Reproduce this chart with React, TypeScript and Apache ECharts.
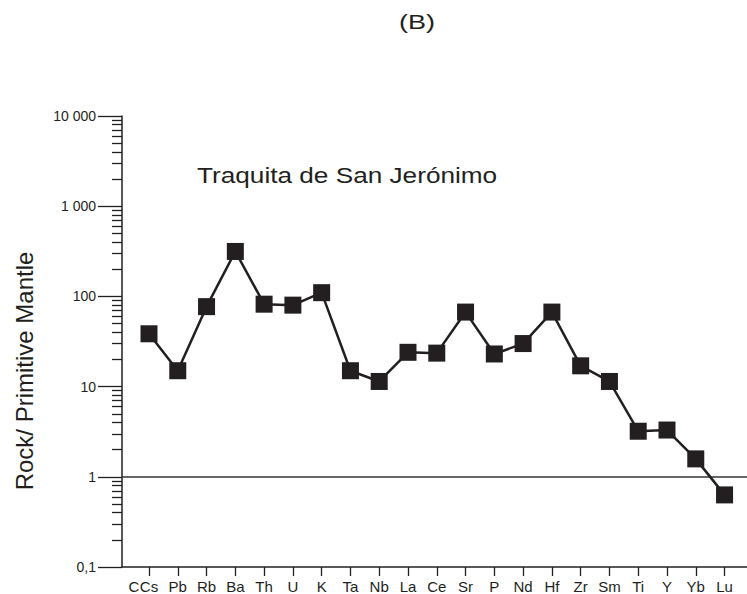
import React, { useEffect, useRef } from "react";
import * as echarts from "echarts";

const categories = ["Cs", "Pb", "Rb", "Ba", "Th", "U", "K", "Ta", "Nb", "La", "Ce", "Sr", "P", "Nd", "Hf", "Zr", "Sm", "Ti", "Y", "Yb", "Lu"];
const values = [38.5, 15, 77, 315, 82, 80, 110, 15, 11.4, 24, 23.5, 67, 23, 30, 67, 17, 11.4, 3.2, 3.3, 1.58, 0.63];
const majorTicks = [0.1, 1, 10, 100, 1000, 10000];
const majorLabels = ["0,1", "1", "10", "100", "1 000", "10 000"];
const minorTicks: number[] = [];
for (const d of [0.1, 1, 10, 100, 1000]) {
  for (const m of [2, 3, 4, 5, 6, 7, 8, 9]) minorTicks.push(+(d * m).toPrecision(3));
}

const INK = "#231f20";
const FONT = "'Liberation Sans', Arial, Helvetica, sans-serif";

export default function App() {
  const ref = useRef<HTMLDivElement>(null);
  useEffect(() => {
    if (!ref.current) return;
    const chart = echarts.init(ref.current, undefined, { renderer: "svg" });
    const idx = categories.map((_, i) => i);
    chart.setOption({
      animation: false,
      backgroundColor: "#ffffff",
      textStyle: { fontFamily: FONT, color: INK },
      grid: { left: 122, right: 0, top: 116, bottom: 25, containLabel: false },
      xAxis: {
        type: "value",
        min: -0.938,
        max: 20.78,
        axisLine: { show: true, onZero: false, lineStyle: { color: INK, width: 1.5 } },
        axisTick: { show: true, customValues: idx, length: 9, lineStyle: { color: INK, width: 1.3 } },
        axisLabel: {
          show: true,
          customValues: idx,
          formatter: (v: number) => categories[Math.round(v)] ?? "",
          fontSize: 15,
          color: INK,
          fontFamily: FONT,
          margin: 12,
        },
        splitLine: { show: false },
      },
      yAxis: [
        {
          type: "log",
          logBase: 10,
          min: 0.1,
          max: 10000,
          position: "left",
          axisLine: { show: true, onZero: false, lineStyle: { color: INK, width: 1.5 } },
          axisTick: { show: true, customValues: majorTicks, length: 24, lineStyle: { color: INK, width: 1.3 } },
          axisLabel: {
            show: true,
            customValues: majorTicks,
            formatter: (v: number) => {
              const i = majorTicks.findIndex((t) => Math.abs(Math.log10(t) - Math.log10(v)) < 1e-6);
              return i >= 0 ? majorLabels[i] : "";
            },
            fontSize: 14,
            color: INK,
            fontFamily: FONT,
            margin: 26,
          },
          splitLine: { show: false },
        },
        {
          type: "log",
          logBase: 10,
          min: 0.1,
          max: 10000,
          position: "left",
          offset: 0,
          axisLine: { show: false, onZero: false },
          axisTick: { show: true, customValues: minorTicks, length: 10, lineStyle: { color: INK, width: 1.3 } },
          axisLabel: { show: false },
          splitLine: { show: false },
        },
      ],
      series: [
        {
          type: "line",
          xAxisIndex: 0,
          yAxisIndex: 0,
          data: values.map((v, i) => [i, v]),
          symbol: "rect",
          symbolSize: 17,
          itemStyle: { color: INK },
          lineStyle: { color: INK, width: 2.5 },
          z: 3,
          markLine: {
            silent: true,
            symbol: "none",
            label: { show: false },
            lineStyle: { color: "#333333", width: 1.5, type: "solid" },
            data: [{ yAxis: 1 }],
            z: 2,
          },
        },
      ],
      graphic: [
        {
          type: "text",
          x: 417,
          y: 22,
          scaleX: 1.35,
          style: { text: "(B)", fontSize: 20, fontFamily: FONT, fill: INK, align: "center", verticalAlign: "middle" },
        },
        {
          type: "text",
          x: 197,
          y: 175,
          scaleX: 1.19,
          style: { text: "Traquita de San Jerónimo", fontSize: 22, fontFamily: FONT, fill: INK, align: "left", verticalAlign: "middle" },
        },
        {
          type: "text",
          x: 24,
          y: 371,
          rotation: Math.PI / 2,
          style: { text: "Rock/ Primitive Mantle", fontSize: 24, fontFamily: FONT, fill: INK, align: "center", verticalAlign: "middle" },
        },
        {
          type: "text",
          x: 134,
          y: 579,
          style: { text: "C", fontSize: 15, lineHeight: 14, fontFamily: FONT, fill: INK, align: "center", verticalAlign: "top" },
        },
      ],
    });
    return () => chart.dispose();
  }, []);
  return <div ref={ref} style={{ position: "fixed", left: 0, top: 0, width: 747, height: 594 }} />;
}
